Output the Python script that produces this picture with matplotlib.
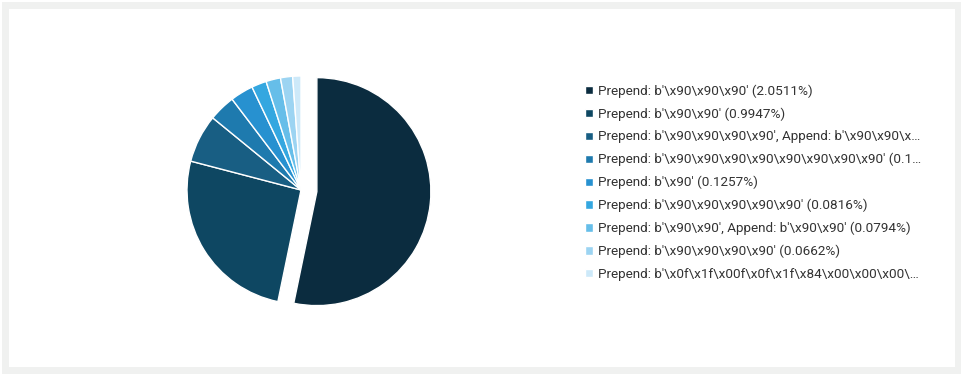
import matplotlib.pyplot as plt
from matplotlib.patches import Rectangle

plt.rcParams['font.family'] = ['Roboto', 'DejaVu Sans']

labels = [
    "Prepend: b'\\x90\\x90\\x90' (2.0511%)",
    "Prepend: b'\\x90\\x90' (0.9947%)",
    "Prepend: b'\\x90\\x90\\x90\\x90', Append: b'\\x90\\x90\\x…",
    "Prepend: b'\\x90\\x90\\x90\\x90\\x90\\x90\\x90\\x90' (0.1…",
    "Prepend: b'\\x90' (0.1257%)",
    "Prepend: b'\\x90\\x90\\x90\\x90\\x90' (0.0816%)",
    "Prepend: b'\\x90\\x90', Append: b'\\x90\\x90' (0.0794%)",
    "Prepend: b'\\x90\\x90\\x90\\x90' (0.0662%)",
    "Prepend: b'\\x0f\\x1f\\x00f\\x0f\\x1f\\x84\\x00\\x00\\x00\\…",
]
values = [2.0511, 0.9947, 0.263, 0.145, 0.1257, 0.0816, 0.0794, 0.0662, 0.045]
colors = ['#0b2c3f', '#0e4762', '#185e83', '#1e7aae', '#2791d0',
          '#34a7e0', '#66bee9', '#9cd4f2', '#cde9f9']
explode = [0.14, 0, 0, 0, 0, 0, 0, 0, 0]

W, H = 962, 374
fig = plt.figure(figsize=(W / 100, H / 100), dpi=100)
fig.patch.set_facecolor('white')

# grey frame around the white card
fig.patches.append(Rectangle((2 / W, 0), 960 / W, 372 / H, transform=fig.transFigure,
                             facecolor='#f0f1f0', edgecolor='none', zorder=-2))
fig.patches.append(Rectangle((9 / W, 7 / H), 946 / W, 358 / H, transform=fig.transFigure,
                             facecolor='white', edgecolor='none', zorder=-1))

# pie centre (301, 190) px, radius 114 px
cx, cy, r = 301, 190, 114
lim = 1.4
ax = fig.add_axes([(cx - lim * r) / W, (H - cy - lim * r) / H, 2 * lim * r / W, 2 * lim * r / H])
ax.patch.set_alpha(0)

wedges, _ = ax.pie(values, colors=colors, explode=explode, startangle=90, counterclock=False,
                   radius=1, wedgeprops=dict(edgecolor='white', linewidth=1))
ax.set_xlim(-lim, lim)
ax.set_ylim(-lim, lim)
ax.axis('off')

leg = fig.legend(wedges, labels, loc='upper left', bbox_to_anchor=(585 / W, (H - 84.5) / H),
                 frameon=False, fontsize=9.7, handlelength=0.58, handleheight=0.58,
                 handletextpad=0.35, labelspacing=0.71, borderaxespad=0, borderpad=0)
for t in leg.get_texts():
    t.set_color('#333333')

fig.savefig('out.png', dpi=100, facecolor='white')
